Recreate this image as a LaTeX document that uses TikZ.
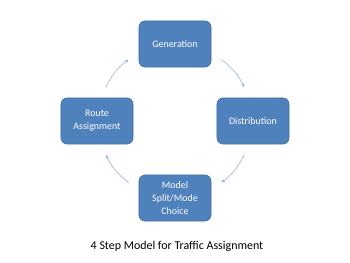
\documentclass[tikz,border=0pt]{standalone}
\usepackage{fontspec}
\setmainfont{Carlito}
\usetikzlibrary{calc,arrows.meta}
\definecolor{boxfill}{HTML}{4F81BD}
\definecolor{boxline}{HTML}{41719C}
\definecolor{arrcol}{HTML}{9BB2D4}
\tikzset{
  stepbox/.style={draw=boxline, line width=0.6bp, fill=boxfill, rounded corners=6bp,
    minimum width=72bp, minimum height=46bp, text=white, align=center,
    font=\fontsize{10}{13}\selectfont, inner sep=1bp},
  arr/.style={draw=arrcol, line width=0.6bp, -{Stealth[length=4bp,width=3.5bp]}, bend left=13.5},
  caption/.style={font=\fontsize{12}{14}\selectfont, text=black}
}
\begin{document}
\begin{tikzpicture}[x=1bp,y=1bp]
\useasboundingbox (0,0) rectangle (350,263);
\fill[white] (0,0) rectangle (350,263);
\node[stepbox] (gen) at (175,219) {Generation};
\node[stepbox] (dist) at (253,142) {Distribution};
\node[stepbox] (model) at (175,65) {Model\\Split/Mode\\Choice};
\node[stepbox] (route) at (97,142) {Route\\Assignment};
\coordinate (ctr) at (175,142);
\coordinate (a1) at ($(ctr)+(53:77)$);
\coordinate (a2) at ($(ctr)+(26:77)$);
\coordinate (b1) at ($(ctr)+(-26:77)$);
\coordinate (b2) at ($(ctr)+(-53:77)$);
\coordinate (c1) at ($(ctr)+(-127:77)$);
\coordinate (c2) at ($(ctr)+(-154:77)$);
\coordinate (d1) at ($(ctr)+(154:77)$);
\coordinate (d2) at ($(ctr)+(127:77)$);
\draw[arr] (a1) to (a2);
\draw[arr] (b1) to (b2);
\draw[arr] (c1) to (c2);
\draw[arr] (d1) to (d2);
\node[caption] (cap) at (177,17) {4 Step Model for Traffic Assignment};
\end{tikzpicture}
\end{document}
